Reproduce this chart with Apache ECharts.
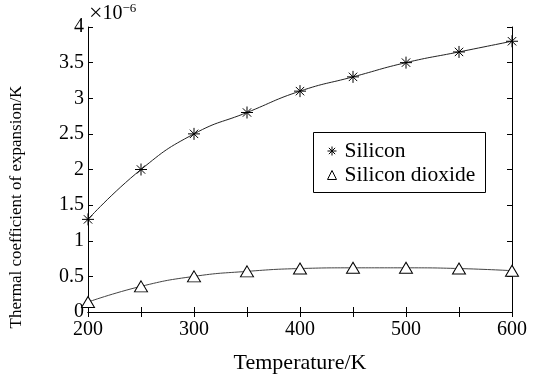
<!DOCTYPE html>
<html>
<head>
<meta charset="utf-8">
<script src="https://cdn.jsdelivr.net/npm/echarts@6/dist/echarts.min.js"></script>
<style>
  html, body { margin: 0; padding: 0; background: #fff; }
  #chart { width: 536px; height: 379px; }
</style>
</head>
<body>
<div id="chart"></div>
<script>
const temperatures = [200, 250, 300, 350, 400, 450, 500, 550, 600];
const silicon = [1.3, 2.0, 2.5, 2.8, 3.1, 3.3, 3.5, 3.65, 3.8];
const siliconDioxide = [0.14, 0.36, 0.5, 0.57, 0.61, 0.62, 0.62, 0.61, 0.58];
const seriesNames = ["Silicon", "Silicon dioxide"];

const FONT = "Liberation Serif";
const ASTERISK = "path://M5,0L5,10M0,5L10,5M1.5,1.5L8.5,8.5M8.5,1.5L1.5,8.5";

function pairs(values) {
    return temperatures.map((t, i) => [t, values[i]]);
}

const chart = echarts.init(document.getElementById("chart"));

const axisCommon = {
    axisLine: { show: true, lineStyle: { color: "#000", width: 1 } },
    axisTick: { show: true, inside: true, length: 5, lineStyle: { color: "#000" } },
    splitLine: { show: false }
};

chart.setOption({
    animation: false,
    backgroundColor: "#fff",
    textStyle: { fontFamily: FONT },
    grid: { left: 88, right: 24, top: 27, bottom: 64 },
    xAxis: [
        Object.assign({
            type: "value",
            min: 200,
            max: 600,
            interval: 50,
            name: "Temperature/K",
            nameLocation: "middle",
            nameGap: 40,
            nameTextStyle: { fontFamily: FONT, fontSize: 22, color: "#000" },
            axisLabel: {
                fontFamily: FONT, fontSize: 20, color: "#000", margin: 8,
                formatter: v => (v % 100 === 0 ? String(v) : "")
            }
        }, axisCommon),
        Object.assign({
            type: "value",
            position: "top",
            min: 200,
            max: 600,
            interval: 50,
            axisLabel: { show: false }
        }, axisCommon)
    ],
    yAxis: [
        Object.assign({
            type: "value",
            min: 0,
            max: 4,
            interval: 0.5,
            axisLabel: { fontFamily: FONT, fontSize: 20, color: "#000", margin: 4 }
        }, axisCommon),
        Object.assign({
            type: "value",
            position: "right",
            min: 0,
            max: 4,
            interval: 0.5,
            axisLabel: { show: false }
        }, axisCommon)
    ],
    legend: {
        orient: "vertical",
        left: 327,
        top: 140,
        itemWidth: 9,
        itemHeight: 9,
        itemGap: 2,
        padding: 0,
        textStyle: { fontFamily: FONT, fontSize: 21.5, color: "#000", padding: [0, 0, 0, 3] },
        data: [
            { name: seriesNames[0], icon: ASTERISK,
              itemStyle: { color: "transparent", borderColor: "#000", borderWidth: 1 } },
            { name: seriesNames[1], icon: "triangle",
              itemStyle: { color: "#fff", borderColor: "#000", borderWidth: 1 } }
        ]
    },
    graphic: [
        {
            type: "rect",
            shape: { x: 313.5, y: 132.5, width: 172, height: 60 },
            style: { fill: "none", stroke: "#000", lineWidth: 1 },
            z: 10
        },
        {
            type: "text",
            left: 89,
            top: 2,
            style: {
                text: "{a|×}{c|10}{b|−6}",
                rich: {
                    a: { fontFamily: FONT, fontSize: 24, fill: "#000" },
                    c: { fontFamily: FONT, fontSize: 20, fill: "#000" },
                    b: { fontFamily: FONT, fontSize: 13, fill: "#000", verticalAlign: "top", padding: [0, 0, 10, 0] }
                }
            }
        },
        {
            type: "text",
            x: 8,
            y: 207,
            rotation: Math.PI / 2,
            style: {
                text: "Thermal coefficient of expansion/K",
                fontFamily: FONT,
                fontSize: 17,
                fill: "#000",
                align: "center",
                verticalAlign: "top"
            }
        }
    ],
    series: [
        {
            name: seriesNames[0],
            type: "line",
            smooth: true,
            data: pairs(silicon),
            symbol: ASTERISK,
            symbolSize: 12,
            lineStyle: { color: "#222", width: 1 },
            itemStyle: { color: "transparent", borderColor: "#000", borderWidth: 1 },
            z: 3
        },
        {
            name: seriesNames[1],
            type: "line",
            smooth: true,
            data: pairs(siliconDioxide),
            symbol: "triangle",
            symbolSize: [13, 11],
            lineStyle: { color: "#444", width: 1 },
            itemStyle: { color: "#fff", borderColor: "#000", borderWidth: 1 },
            z: 3
        }
    ]
});
</script>
</body>
</html>
